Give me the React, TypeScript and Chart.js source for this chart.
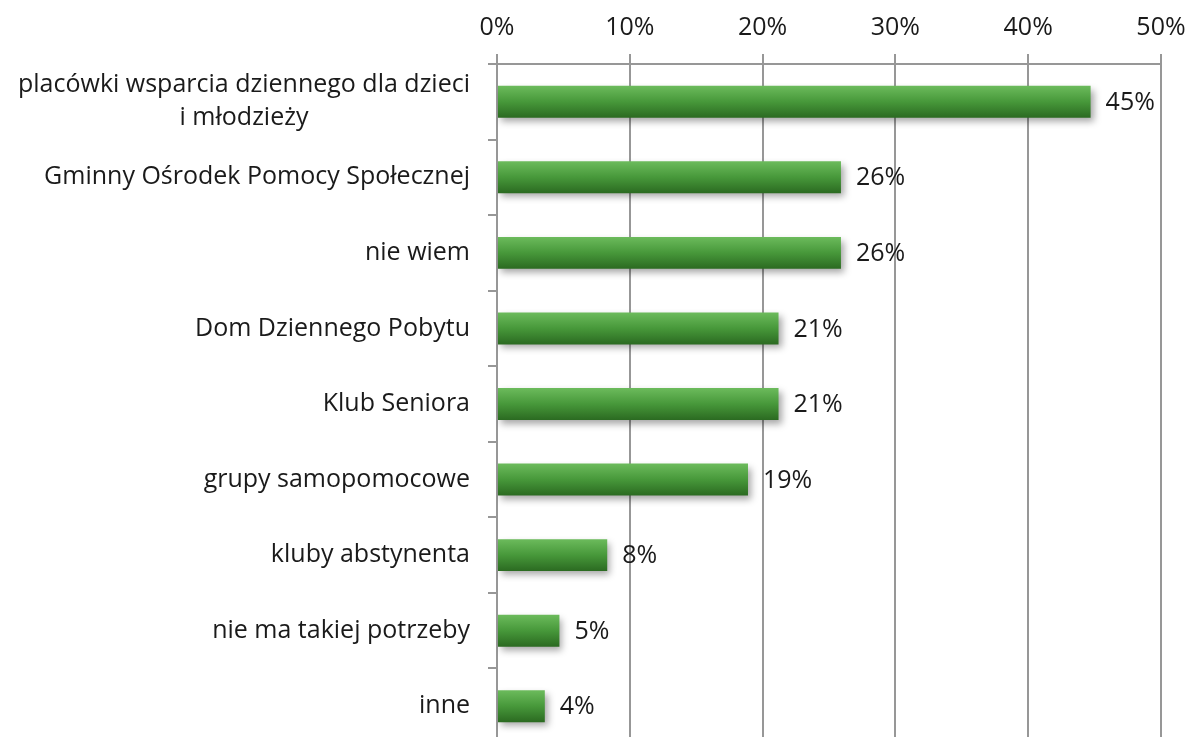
import React, { useEffect, useRef } from "react";
import { Chart, registerables } from "chart.js";

Chart.register(...registerables);

const categories: (string | string[])[] = [
  ["placówki wsparcia dziennego dla dzieci", "i młodzieży"],
  "Gminny Ośrodek Pomocy Społecznej",
  "nie wiem",
  "Dom Dziennego Pobytu",
  "Klub Seniora",
  "grupy samopomocowe",
  "kluby abstynenta",
  "nie ma takiej potrzeby",
  "inne",
];
const values = [44.7, 25.9, 25.9, 21.2, 21.2, 18.9, 8.3, 4.7, 3.6];
const valueLabels = ["45%", "26%", "26%", "21%", "21%", "19%", "8%", "5%", "4%"];
const xTicks = [0, 10, 20, 30, 40, 50];

const FONT = "'Open Sans', 'Noto Sans', sans-serif";
const FS = 25;
const GRID = "#979797";
const BAR_FRACTION = 0.423;

const shadowPlugin = {
  id: "barShadow",
  beforeDatasetDraw(chart: any) {
    const ctx = chart.ctx;
    ctx.save();
    ctx.shadowColor = "rgba(0,0,0,0.35)";
    ctx.shadowBlur = 7;
    ctx.shadowOffsetX = 3;
    ctx.shadowOffsetY = 4;
  },
  afterDatasetDraw(chart: any) {
    chart.ctx.restore();
  },
};

const labelsPlugin = {
  id: "customLabels",
  afterDraw(chart: any) {
    const ctx = chart.ctx;
    const yScale = chart.scales.y;
    const area = chart.chartArea;
    ctx.save();
    ctx.font = `${FS}px ${FONT}`;
    ctx.fillStyle = "#1a1a1a";
    ctx.textBaseline = "middle";
    categories.forEach((cat, i) => {
      const yc = yScale.getPixelForValue(i);
      const lines = Array.isArray(cat) ? cat : [cat];
      const lh = 33;
      const right = area.left - 27;
      const maxW = Math.max(...lines.map((l) => ctx.measureText(l).width));
      lines.forEach((l, j) => {
        const y = yc + (j - (lines.length - 1) / 2) * lh;
        if (lines.length > 1) {
          ctx.textAlign = "center";
          ctx.fillText(l, right - maxW / 2, y);
        } else {
          ctx.textAlign = "right";
          ctx.fillText(l, right, y);
        }
      });
    });
    const meta = chart.getDatasetMeta(0);
    ctx.textAlign = "left";
    meta.data.forEach((bar: any, i: number) => {
      ctx.fillText(valueLabels[i], bar.x + 15, bar.y + 1);
    });
    ctx.restore();
  },
};

export default function App() {
  const ref = useRef<HTMLCanvasElement | null>(null);
  useEffect(() => {
    if (!ref.current) return;
    const chart = new Chart(ref.current, {
      type: "bar",
      data: {
        labels: categories.map((c) => (Array.isArray(c) ? c.join(" ") : c)),
        datasets: [
          {
            data: values,
            backgroundColor: (c: any) => {
              const chart = c.chart;
              const ys = chart.scales?.y;
              if (!ys || !chart.chartArea) return "#4a9a3c";
              const band = ys.height / categories.length;
              const yc = ys.getPixelForValue(c.dataIndex);
              const h = (band * BAR_FRACTION) / 2;
              const g = chart.ctx.createLinearGradient(0, yc - h, 0, yc + h);
              g.addColorStop(0, "#6cbb5c");
              g.addColorStop(0.5, "#47983a");
              g.addColorStop(1, "#2b6a21");
              return g;
            },
            borderWidth: 0,
            categoryPercentage: 1,
            barPercentage: BAR_FRACTION,
          },
        ],
      },
      options: {
        indexAxis: "y",
        animation: false,
        responsive: false,
        maintainAspectRatio: false,
        layout: { padding: { left: 0, right: 28, top: 0, bottom: 0 } },
        plugins: { legend: { display: false }, tooltip: { enabled: false } },
        scales: {
          x: {
            position: "top",
            min: 0,
            max: 50,
            afterFit: (s: any) => {
              s.height = 64;
              s.paddingRight = 0;
              s.paddingLeft = 0;
            },
            afterBuildTicks: (s: any) => {
              s.ticks = xTicks.map((v) => ({ value: v }));
            },
            ticks: {
              callback: (v: any) => `${v}%`,
              font: { family: FONT, size: FS },
              color: "#1a1a1a",
              padding: 11,
              maxRotation: 0,
            },
            grid: { color: GRID, lineWidth: 2, tickLength: 10, drawTicks: true },
            border: { display: true, color: GRID, width: 2 },
          },
          y: {
            afterFit: (s: any) => {
              s.width = 497;
            },
            ticks: { display: false },
            grid: {
              color: GRID,
              lineWidth: 2,
              drawOnChartArea: false,
              drawTicks: true,
              tickLength: 9,
              offset: true,
            },
            border: { display: true, color: GRID, width: 2 },
          },
        },
      },
      plugins: [shadowPlugin, labelsPlugin],
    } as any);
    return () => chart.destroy();
  }, []);
  return (
    <div
      style={{
        position: "absolute",
        left: 0,
        top: 0,
        width: 1189,
        height: 737,
        overflow: "hidden",
        background: "#fff",
      }}
    >
      <canvas ref={ref} width={1189} height={744} style={{ display: "block" }} />
    </div>
  );
}
